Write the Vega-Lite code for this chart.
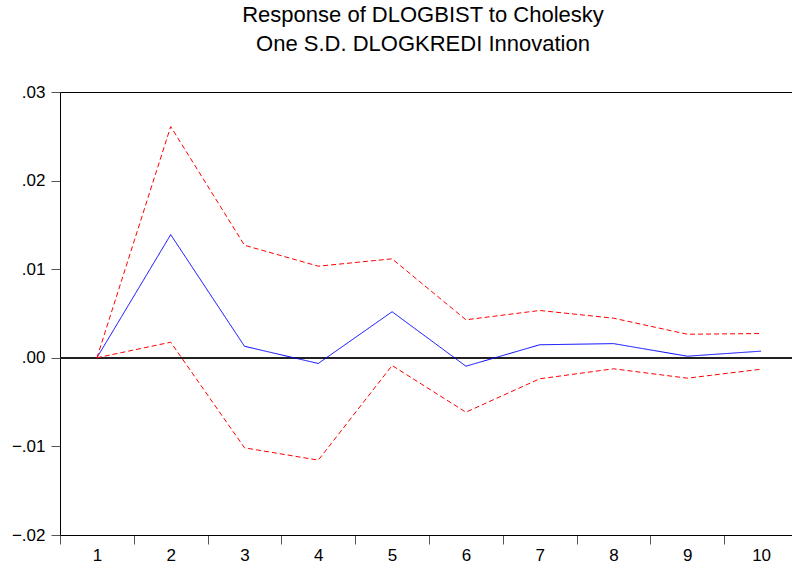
{
  "$schema": "https://vega.github.io/schema/vega-lite/v6.json",
  "autosize": {"type": "none"},
  "padding": {"left": 60, "top": 92, "right": 0, "bottom": 37},
  "width": 738,
  "height": 443,
  "background": "white",
  "config": {
    "font": "Liberation Sans",
    "view": {"stroke": "black", "strokeWidth": 1}
  },
  "title": {
    "text": ["Response of DLOGBIST to Cholesky", "One S.D. DLOGKREDI Innovation"],
    "font": "Liberation Sans",
    "fontSize": 22,
    "fontWeight": "normal",
    "color": "black",
    "lineHeight": 29,
    "anchor": "middle",
    "frame": "group",
    "offset": 27,
    "dx": -6
  },
  "data": {
    "values": [
      {"period": 1, "series": "Response", "value": 0.0},
      {"period": 2, "series": "Response", "value": 0.0139},
      {"period": 3, "series": "Response", "value": 0.0013},
      {"period": 4, "series": "Response", "value": -0.00064},
      {"period": 5, "series": "Response", "value": 0.0052},
      {"period": 6, "series": "Response", "value": -0.00095},
      {"period": 7, "series": "Response", "value": 0.00147},
      {"period": 8, "series": "Response", "value": 0.0016},
      {"period": 9, "series": "Response", "value": 0.00018},
      {"period": 10, "series": "Response", "value": 0.00075},
      {"period": 1, "series": "Upper", "value": 0.0},
      {"period": 2, "series": "Upper", "value": 0.0261},
      {"period": 3, "series": "Upper", "value": 0.0127},
      {"period": 4, "series": "Upper", "value": 0.01034},
      {"period": 5, "series": "Upper", "value": 0.01117},
      {"period": 6, "series": "Upper", "value": 0.00429},
      {"period": 7, "series": "Upper", "value": 0.00534},
      {"period": 8, "series": "Upper", "value": 0.00447},
      {"period": 9, "series": "Upper", "value": 0.00266},
      {"period": 10, "series": "Upper", "value": 0.00274},
      {"period": 1, "series": "Lower", "value": 0.0},
      {"period": 2, "series": "Lower", "value": 0.00176},
      {"period": 3, "series": "Lower", "value": -0.01016},
      {"period": 4, "series": "Lower", "value": -0.01155},
      {"period": 5, "series": "Lower", "value": -0.00087},
      {"period": 6, "series": "Lower", "value": -0.00614},
      {"period": 7, "series": "Lower", "value": -0.00237},
      {"period": 8, "series": "Lower", "value": -0.00124},
      {"period": 9, "series": "Lower", "value": -0.0023},
      {"period": 10, "series": "Lower", "value": -0.00129}
    ]
  },
  "encoding": {
    "x": {
      "field": "period",
      "type": "ordinal",
      "bandPosition": 0.5,
      "scale": {"type": "band", "paddingInner": 0, "paddingOuter": 0},
      "axis": {
        "title": null,
        "labelAngle": 0,
        "labelFont": "Liberation Sans",
        "labelFontSize": 17,
        "labelColor": "black",
        "labelPadding": 3,
        "tickBand": "extent",
        "tickSize": 9,
        "tickColor": "#555555",
        "domainColor": "black",
        "grid": false
      }
    },
    "y": {
      "field": "value",
      "type": "quantitative",
      "scale": {"domain": [-0.02, 0.03], "nice": false, "zero": false},
      "axis": {
        "title": null,
        "values": [-0.02, -0.01, 0, 0.01, 0.02, 0.03],
        "labelExpr": "replace(format(datum.value, '.2f'), '0.', '.')",
        "labelFont": "Liberation Sans",
        "labelFontSize": 17,
        "labelColor": "black",
        "labelPadding": 6,
        "tickSize": 9,
        "tickColor": "#555555",
        "domainColor": "black",
        "grid": false
      }
    }
  },
  "layer": [
    {
      "mark": {"type": "rule", "color": "#222222", "strokeWidth": 1},
      "encoding": {"y": {"datum": 0}, "x": null}
    },
    {
      "mark": {"type": "line", "strokeWidth": 1},
      "encoding": {
        "detail": {"field": "series"},
        "color": {
          "field": "series",
          "type": "nominal",
          "scale": {"domain": ["Response", "Upper", "Lower"], "range": ["#0000FF", "#FF0000", "#FF0000"]},
          "legend": null
        },
        "strokeDash": {
          "field": "series",
          "type": "nominal",
          "scale": {"domain": ["Response", "Upper", "Lower"], "range": [[1, 0], [5, 3], [5, 3]]},
          "legend": null
        }
      }
    }
  ]
}
